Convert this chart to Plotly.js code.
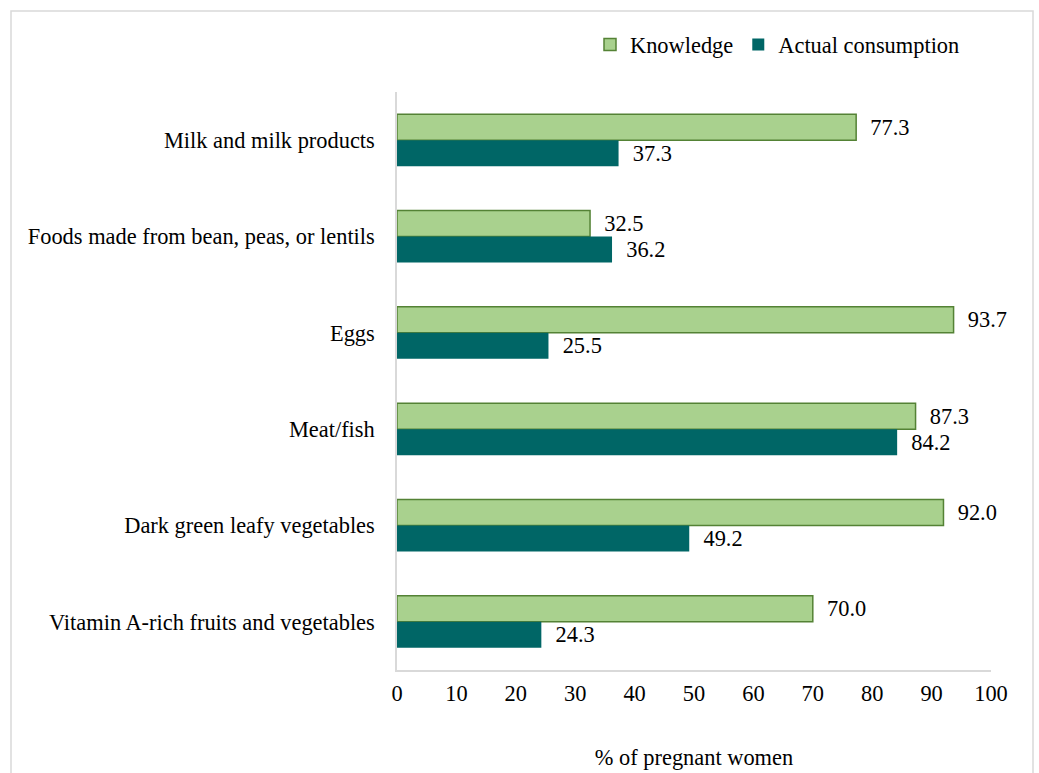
<!DOCTYPE html>
<html>
<head>
<meta charset="utf-8">
<script src="https://cdn.plot.ly/plotly-3.0.1.min.js"></script>
<style>html,body{margin:0;padding:0;background:#fff;}#chart{width:1039px;height:773px;}</style>
</head>
<body>
<div id="chart"></div>
<script>
const categories = ["Milk and milk products", "Foods made from bean, peas, or lentils", "Eggs", "Meat/fish", "Dark green leafy vegetables", "Vitamin A-rich fruits and vegetables"];
const knowledge = [77.3, 32.5, 93.7, 87.3, 92.0, 70.0];
const consumption = [37.3, 36.2, 25.5, 84.2, 49.2, 24.3];
const xTicks = [0, 10, 20, 30, 40, 50, 60, 70, 80, 90, 100];

const FONT = "Liberation Serif";
const FS = 22.4;
const L = 397, R = 48, T = 92, B = 103, W = 1039, H = 773;
const pw = W - L - R, ph = H - T - B;
const px = v => (v - L) / pw;
const py = v => (H - B - v) / ph;

const traces = [
  {type: "bar", orientation: "h", name: "Knowledge", y: categories, x: knowledge,
   marker: {color: "#A9D18E", line: {color: "#548235", width: 1.5}},
   text: knowledge.map(v => "\u00a0\u00a0" + v.toFixed(1)), textposition: "outside",
   textfont: {family: FONT, size: FS, color: "#000"}, cliponaxis: false, hoverinfo: "x"},
  {type: "bar", orientation: "h", name: "Actual consumption", y: categories, x: consumption,
   marker: {color: "#006666", line: {color: "#006666", width: 0}},
   text: consumption.map(v => "\u00a0\u00a0" + v.toFixed(1)), textposition: "outside",
   textfont: {family: FONT, size: FS, color: "#000"}, cliponaxis: false, hoverinfo: "x"}
];

const layout = {
  width: W, height: H,
  margin: {l: L, r: R, t: T, b: B, pad: 0},
  paper_bgcolor: "#fff", plot_bgcolor: "#fff",
  font: {family: FONT, size: FS, color: "#000"},
  barmode: "group", bargap: 0.46, bargroupgap: 0,
  showlegend: true,
  legend: {orientation: "h", x: px(590), xanchor: "left", y: py(45), yanchor: "middle",
    font: {family: FONT, size: FS, color: "#000"}, itemwidth: 30, traceorder: "normal", bgcolor: "rgba(0,0,0,0)"},
  xaxis: {range: [0, 100], tickvals: xTicks, ticktext: xTicks.map(String), showgrid: false, zeroline: false,
    showline: true, linecolor: "#d9d9d9", linewidth: 1.5, ticks: "", ticklabelstandoff: 2,
    tickfont: {family: FONT, size: FS, color: "#000"},
    title: {text: "% of pregnant women", font: {family: FONT, size: FS, color: "#000"}, standoff: 45}},
  yaxis: {type: "category", autorange: "reversed", showgrid: false, zeroline: false,
    showline: true, linecolor: "#d9d9d9", linewidth: 1.5, ticks: "", ticklabelstandoff: 16,
    tickfont: {family: FONT, size: FS, color: "#000"}},
  shapes: [{type: "rect", xref: "paper", yref: "paper", x0: px(11), x1: px(1033), y0: py(11), y1: py(790),
    line: {color: "#d9d9d9", width: 1.5}, fillcolor: "rgba(0,0,0,0)", layer: "below"}]
};

Plotly.newPlot("chart", traces, layout, {displayModeBar: false, responsive: false});
</script>
</body>
</html>
